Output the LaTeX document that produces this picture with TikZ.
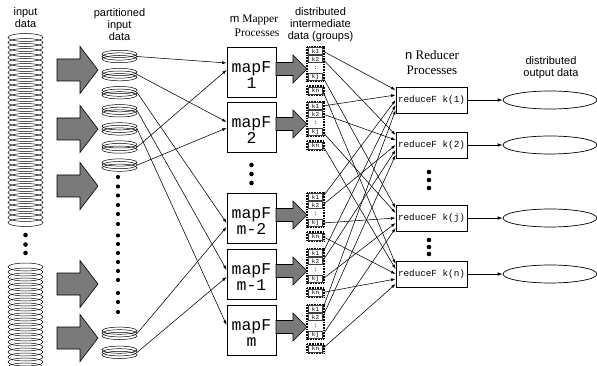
\documentclass[tikz,border=0pt]{standalone}
\usepackage{fontspec}
\setmainfont{Liberation Serif}
\setsansfont{Liberation Sans}
\setmonofont{Liberation Mono}
\usetikzlibrary{arrows.meta,shapes.geometric,calc}
\begin{document}
\begin{tikzpicture}[x=1pt,y=-1pt,
  lbl/.style={font=\sffamily\fontsize{11}{12}\selectfont, inner sep=0, anchor=base},
  hdr/.style={font=\rmfamily\fontsize{11.5}{12}\selectfont, inner sep=0, anchor=base},
  rhdr/.style={font=\rmfamily\fontsize{13}{14}\selectfont, inner sep=0, anchor=base},
  ring/.style={draw, line width=0.5pt},
  dotc/.style={fill=black},
  grayarrow/.style={draw=black, line width=0.6pt, fill=black!52},
  mapbox/.style={draw, line width=0.8pt, minimum width=49, minimum height=50, inner sep=0},
  maptext/.style={font=\ttfamily\fontsize{16.5}{17}\selectfont, inner sep=0, anchor=base},
  redbox/.style={draw, line width=0.8pt, minimum width=71, minimum height=26, inner sep=0,
     font=\ttfamily\fontsize{9.3}{10}\selectfont},
  keybox/.style={draw=black!75, fill=white, line width=0.4pt, minimum width=14, minimum height=7,
     inner sep=0, font=\ttfamily\fontsize{6}{6}\selectfont},
  keydots/.style={inner sep=0, font=\ttfamily\fontsize{6}{6}\selectfont},
  grpborder/.style={draw, line width=1.3pt, dash pattern=on 0.8pt off 0.8pt},
  outell/.style={ellipse, draw, line width=0.7pt, minimum width=94, minimum height=18, inner sep=0},
  conn/.style={draw, line width=0.55pt, -{Latex[length=4.5pt,width=3pt]}},
  conn2/.style={draw, line width=0.7pt, -{Latex[length=5pt,width=3.5pt]}},
  diskn/.style={ellipse, minimum width=35, minimum height=12, inner sep=0}
]
\useasboundingbox (0,0) rectangle (597,366);

% ---------- headings ----------
\node[lbl] (hin1) at (25.5,16) {input};
\node[lbl] (hin2) at (25.5,28) {data};
\node[lbl] (hp1) at (119.5,16.5) {partitioned};
\node[lbl] (hp2) at (119.5,29) {input};
\node[lbl] (hp3) at (119.5,41) {data};
\node[hdr] (hm1) at (254,22.5) {{\sffamily m} Mapper};
\node[hdr] (hm2) at (257,37) {Processes};
\node[lbl] (hd1) at (320.5,16) {distributed};
\node[lbl] (hd2) at (320.5,28) {intermediate};
\node[lbl] (hd3) at (320.5,40) {data (groups)};
\node[rhdr] (hr1) at (432,60) {{\sffamily n} Reducer};
\node[rhdr] (hr2) at (432,75) {Processes};
\node[lbl] (ho1) at (551,65) {distributed};
\node[lbl] (ho2) at (551,77) {output data};

% ---------- input data stacks ----------
\foreach \i in {0,...,37}
  \draw[ring] (25.5,{37.5+5*\i}) ellipse [x radius=17.5, y radius=4];
\foreach \i in {0,...,20}
  \draw[ring] (25.5,{267+5*\i}) ellipse [x radius=17.5, y radius=4];
\foreach \y in {235,244.5,253}
  \fill[dotc] (25.5,\y) circle [radius=2.3];

% ---------- big gray arrows ----------
\foreach \c in {70,129,186,284,338}
  \draw[grayarrow] (57,\c-11) -- (80,\c-11) -- (80,\c-23.5) -- (98,\c) -- (80,\c+23.5)
     -- (80,\c+11) -- (57,\c+11) -- cycle;

% ---------- partitioned disks ----------
\foreach \n/\y in {1/56.5,2/74.6,3/92.7,4/110.8,5/128.9,6/147,7/165.1,8/333.3,9/352.3} {
  \node[diskn] (d\n) at (119.5,\y) {};
  \foreach \o in {-2.6,0,2.6}
    \draw[ring] (119.5,\y+\o) ellipse [x radius=17.5, y radius=3.6];
}
\foreach \y in {177,186.5,195.5,205,214,224,235.5,244,253,262,271,280,293,302,312}
  \fill[dotc] (118,\y) circle [radius=2.1];

% ---------- mappers ----------
\foreach \n/\cy/\lab in {1/72/1,2/127/2,3/218/m-2,4/274/m-1,5/330/m} {
  \node[mapbox] (m\n) at (251.5,\cy) {};
  \node[maptext] (m\n a) at (251.5,\cy+0.5) {mapF};
  \node[maptext] (m\n b) at (251.5,\cy+16.5) {\lab};
  \draw[grayarrow] (276,\cy-9.5) -- (293,\cy-9.5) -- (293,\cy-17) -- (307,\cy-3)
     -- (293,\cy+11) -- (293,\cy+3.5) -- (276,\cy+3.5) -- cycle;
  % key group
  \draw[grpborder] (307,\cy-25) rectangle (324,\cy+9);
  \draw[grpborder] (307,\cy+14) rectangle (324,\cy+23);
  \node[keybox] (k\n a) at (315.5,\cy-21) {k1};
  \node[keybox] (k\n b) at (315.5,\cy-13) {k2};
  \node[keydots] (k\n c) at (315.5,\cy-4.5) {:};
  \node[keybox] (k\n d) at (315.5,\cy+5) {kj};
  \node[keybox] (k\n e) at (315.5,\cy+18.5) {kn};
}
\foreach \y in {165,174,183}
  \fill[dotc] (251.5,\y) circle [radius=2.3];

% ---------- reducers ----------
\foreach \n/\cy/\lab in {1/100/1,2/145/2,3/218/j,4/274/n} {
  \node[redbox] (r\n) at (431.5,\cy) {reduceF k(\lab)};
  \node[outell] (o\n) at (550,\cy) {};
  \draw[conn2] (r\n) -- (o\n);
}
\foreach \y in {172,180,188,240,247,254}
  \fill[dotc] (429,\y) circle [radius=2.3];

% ---------- disk -> mapper connectors ----------
\draw[conn] (d1.east) -- ([yshift=9pt]m1.west);
\draw[conn] (d6.east) -- ([yshift=2pt]m1.west);
\draw[conn] (d2.east) -- ([yshift=5pt]m2.west);
\draw[conn] (d7.east) -- ([yshift=-1pt]m2.west);
\draw[conn] (d3.east) -- ([yshift=-5pt]m3.west);
\draw[conn] (d8.east) -- ([yshift=-9pt]m3.west);
\draw[conn] (d4.east) -- ([yshift=4pt]m4.west);
\draw[conn] (d9.east) -- ([yshift=-3pt]m4.west);
\draw[conn] (d5.east) -- ([yshift=5pt]m5.west);

% ---------- key -> reducer connectors ----------
\foreach \g in {1,...,5} {
  \pgfmathsetmacro{\sh}{15-5*\g}
  \draw[conn] (k\g a.east) -- ([yshift=\sh pt]r1.west);
  \draw[conn] (k\g b.east) -- ([yshift=\sh pt]r2.west);
  \draw[conn] (k\g d.east) -- ([yshift=\sh pt]r3.west);
  \draw[conn] (k\g e.east) -- ([yshift=\sh pt]r4.west);
}
\end{tikzpicture}
\end{document}
